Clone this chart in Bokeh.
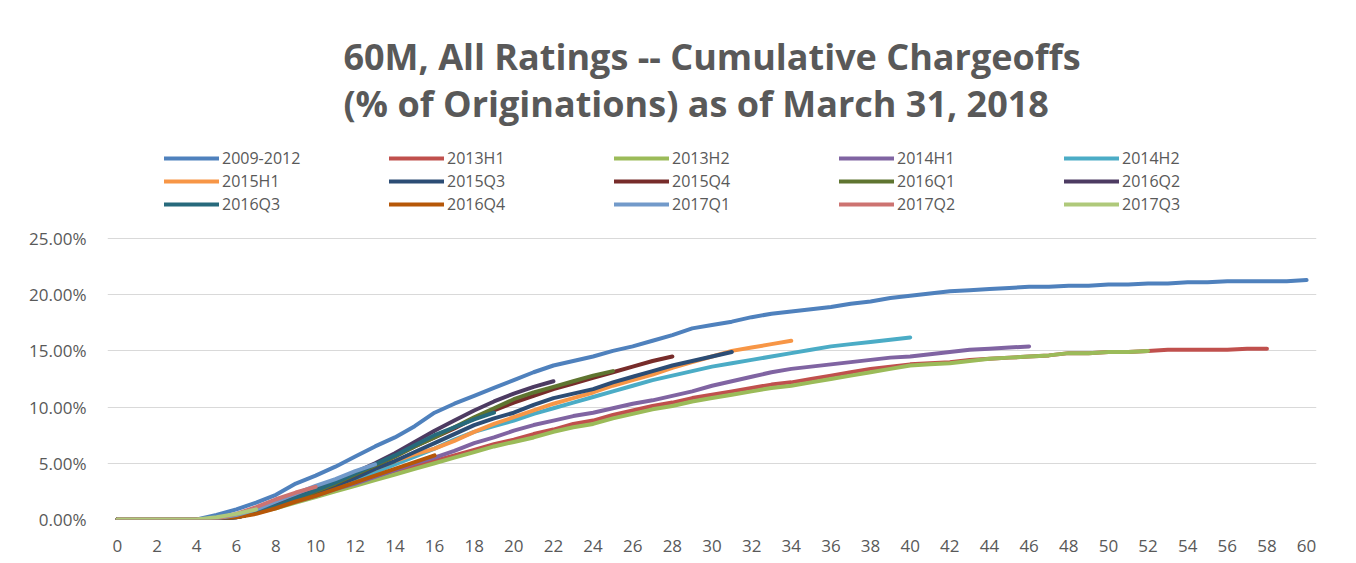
from bokeh.plotting import figure
from bokeh.models import Legend, LegendItem, Title, FixedTicker, PrintfTickFormatter, Range1d
from bokeh.embed import file_html
from bokeh.resources import INLINE

# ---------------- data (cumulative chargeoffs, % of originations) ----------------
x_ticks = list(range(0, 61, 2))
y_ticks = [0, 5, 10, 15, 20, 25]

s2009_2012 = [0, 0, 0, 0, 0, 0.4, 0.9, 1.5, 2.2, 3.2, 3.9, 4.7, 5.6, 6.5, 7.3, 8.3, 9.5, 10.3, 11.0, 11.7,
              12.4, 13.1, 13.7, 14.1, 14.5, 15.0, 15.4, 15.9, 16.4, 17.0, 17.3, 17.6, 18.0, 18.3, 18.5,
              18.7, 18.9, 19.2, 19.4, 19.7, 19.9, 20.1, 20.3, 20.4, 20.5, 20.6, 20.7, 20.7, 20.8, 20.8,
              20.9, 20.9, 21.0, 21.0, 21.1, 21.1, 21.2, 21.2, 21.2, 21.2, 21.3]
s2013H1 = [0, 0, 0, 0, 0, 0.1, 0.3, 0.7, 1.1, 1.6, 2.1, 2.6, 3.1, 3.6, 4.1, 4.7, 5.2, 5.7, 6.2, 6.7,
           7.1, 7.6, 8.0, 8.5, 8.8, 9.3, 9.7, 10.1, 10.4, 10.8, 11.1, 11.4, 11.7, 12.0, 12.2,
           12.5, 12.8, 13.1, 13.4, 13.6, 13.8, 13.9, 14.0, 14.2, 14.3, 14.4, 14.5, 14.6, 14.8, 14.8,
           14.9, 14.9, 15.0, 15.1, 15.1, 15.1, 15.1, 15.2, 15.2]
s2013H2 = [0, 0, 0, 0, 0, 0.1, 0.3, 0.6, 1.0, 1.5, 2.0, 2.5, 3.0, 3.5, 4.0, 4.5, 5.0, 5.5, 6.0, 6.5,
           6.9, 7.3, 7.8, 8.2, 8.5, 9.0, 9.4, 9.8, 10.1, 10.5, 10.8, 11.1, 11.4, 11.7, 11.9,
           12.2, 12.5, 12.8, 13.1, 13.4, 13.7, 13.8, 13.9, 14.1, 14.3, 14.4, 14.5, 14.6, 14.8, 14.8,
           14.9, 14.9, 15.0]
s2014H1 = [0, 0, 0, 0, 0, 0.1, 0.3, 0.7, 1.1, 1.6, 2.1, 2.7, 3.2, 3.8, 4.4, 5.0, 5.5, 6.1, 6.8, 7.3,
           7.9, 8.4, 8.8, 9.2, 9.5, 9.9, 10.3, 10.6, 11.0, 11.4, 11.9, 12.3, 12.7, 13.1, 13.4,
           13.6, 13.8, 14.0, 14.2, 14.4, 14.5, 14.7, 14.9, 15.1, 15.2, 15.3, 15.4]
s2014H2 = [0, 0, 0, 0, 0, 0.1, 0.3, 0.7, 1.2, 1.8, 2.4, 3.0, 3.6, 4.2, 4.9, 5.6, 6.3, 7.1, 7.8, 8.3,
           8.8, 9.4, 9.9, 10.4, 10.9, 11.4, 11.9, 12.4, 12.8, 13.2, 13.6, 13.9, 14.2, 14.5, 14.8,
           15.1, 15.4, 15.6, 15.8, 16.0, 16.2]
s2015H1 = [0, 0, 0, 0, 0, 0.1, 0.3, 0.7, 1.2, 1.8, 2.4, 3.1, 3.8, 4.5, 5.2, 5.8, 6.3, 7.0, 7.8, 8.5,
           9.1, 9.7, 10.3, 10.8, 11.3, 11.9, 12.4, 12.9, 13.5, 14.0, 14.5, 15.0, 15.3, 15.6, 15.9]
s2015Q3 = [0, 0, 0, 0, 0, 0.0, 0.2, 0.6, 1.1, 1.7, 2.3, 3.0, 3.7, 4.5, 5.2, 6.0, 6.8, 7.6, 8.4, 9.0,
           9.5, 10.2, 10.8, 11.2, 11.6, 12.2, 12.7, 13.2, 13.7, 14.1, 14.5, 14.9]
s2015Q4 = [0, 0, 0, 0, 0, 0.0, 0.2, 0.6, 1.2, 1.8, 2.5, 3.2, 4.0, 4.8, 5.6, 6.5, 7.3, 8.1, 9.0, 9.7,
           10.4, 11.0, 11.6, 12.1, 12.6, 13.1, 13.6, 14.1, 14.5]
s2016Q1 = [0, 0, 0, 0, 0, 0.0, 0.2, 0.6, 1.2, 1.8, 2.5, 3.2, 4.0, 4.8, 5.6, 6.5, 7.3, 8.2, 9.1, 9.9,
           10.7, 11.3, 11.8, 12.3, 12.8, 13.2]
s2016Q2 = [0, 0, 0, 0, 0, 0.0, 0.2, 0.6, 1.3, 2.0, 2.7, 3.4, 4.2, 5.0, 5.9, 6.9, 7.9, 8.8, 9.7, 10.5,
           11.2, 11.8, 12.3]
s2016Q3 = [0, 0, 0, 0, 0, 0.0, 0.2, 0.6, 1.2, 1.9, 2.6, 3.3, 4.1, 4.9, 5.7, 6.6, 7.5, 8.2, 8.9, 9.5]
s2016Q4 = [0, 0, 0, 0, 0, 0.0, 0.2, 0.5, 1.0, 1.6, 2.1, 2.7, 3.3, 3.9, 4.5, 5.1, 5.7]
s2017Q1 = [0, 0, 0, 0, 0, 0.1, 0.4, 0.9, 1.6, 2.3, 3.0, 3.6, 4.3, 4.9]
s2017Q2 = [0, 0, 0, 0, 0, 0.1, 0.5, 1.1, 1.8, 2.4, 2.9]
s2017Q3 = [0, 0, 0, 0, 0, 0.2, 0.5, 0.9]

series_names = ["2009-2012", "2013H1", "2013H2", "2014H1", "2014H2",
                "2015H1", "2015Q3", "2015Q4", "2016Q1", "2016Q2",
                "2016Q3", "2016Q4", "2017Q1", "2017Q2", "2017Q3"]
series_values = [s2009_2012, s2013H1, s2013H2, s2014H1, s2014H2,
                 s2015H1, s2015Q3, s2015Q4, s2016Q1, s2016Q2,
                 s2016Q3, s2016Q4, s2017Q1, s2017Q2, s2017Q3]
series_colors = ["#4F81BD", "#C0504D", "#9BBB59", "#8064A2", "#4BACC6",
                 "#F79646", "#2C4D75", "#772C2A", "#5F7530", "#4D3B62",
                 "#276A7C", "#B65708", "#729ACA", "#CD7371", "#AFC97A"]

title_line1 = "60M, All Ratings -- Cumulative Chargeoffs"
title_line2 = "(% of Originations) as of March 31, 2018"

FONT = "Open Sans"
GRAY = "#595959"

# frame spans the legend area too; gridlines only at the y ticks (0..25%)
p = figure(width=1348, height=555, output_backend="svg", toolbar_location=None,
           x_range=Range1d(-0.5, 60.5), y_range=Range1d(0, 34.16),
           min_border_left=107, min_border_right=32, min_border_bottom=36, min_border_top=135,
           title=None)
p.outline_line_color = None
p.background_fill_color = "white"
p.border_fill_color = "white"

items = []
for name, vals, col in zip(series_names, series_values, series_colors):
    r = p.line(list(range(len(vals))), vals, line_color=col, line_width=4,
               line_join="round", line_cap="round")
    items.append(LegendItem(label=name, renderers=[r]))

# axes
p.xaxis.ticker = FixedTicker(ticks=x_ticks)
p.yaxis.ticker = FixedTicker(ticks=y_ticks)
p.yaxis.formatter = PrintfTickFormatter(format="%.2f%%")
for ax in (p.xaxis[0], p.yaxis[0]):
    ax.axis_line_color = None
    ax.major_tick_line_color = None
    ax.minor_tick_line_color = None
    ax.major_tick_in = 0
    ax.major_tick_out = 0
    ax.major_label_text_font = FONT
    ax.major_label_text_font_size = "17px"
    ax.major_label_text_color = GRAY
p.xaxis.major_label_standoff = 20
p.yaxis.major_label_standoff = 21
p.xgrid.grid_line_color = None
p.ygrid.grid_line_color = "#D9D9D9"
p.ygrid.grid_line_width = 1

legend = Legend(items=items, orientation="horizontal", ncols=5, location=(57, 304),
                label_text_font=FONT, label_text_font_size="16px", label_text_color=GRAY,
                label_width=166, label_height=20, glyph_width=55, glyph_height=20,
                label_standoff=3, spacing=1, padding=5, margin=0,
                border_line_color=None, background_fill_alpha=0)
p.add_layout(legend, "center")

title = Title(text=title_line1 + "\n" + title_line2, align="center", text_font=FONT,
              text_font_size="36px", text_font_style="bold", text_color=GRAY,
              text_line_height=0.96, standoff=14)
p.add_layout(title, "above")

open("out.html", "w").write(file_html(p, INLINE))
